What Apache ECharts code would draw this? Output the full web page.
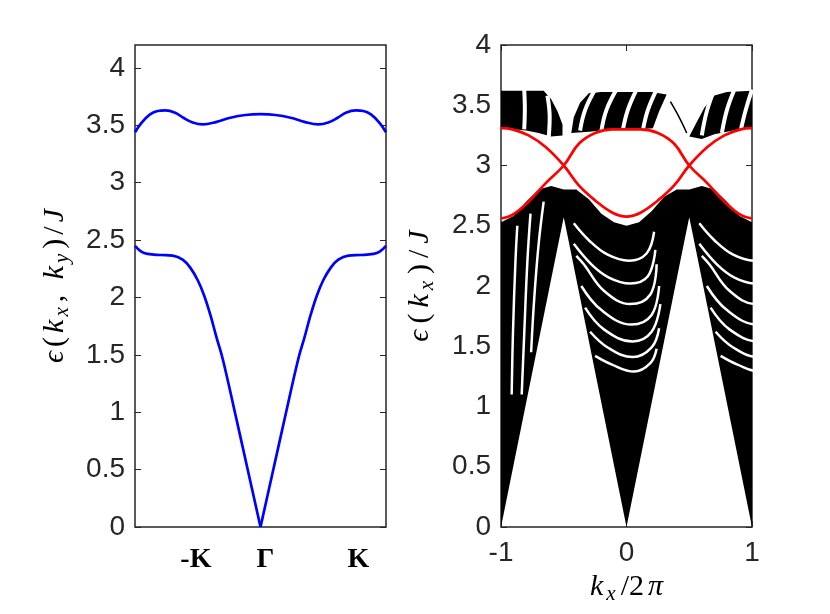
<!DOCTYPE html>
<html>
<head>
<meta charset="utf-8">
<script src="https://cdn.jsdelivr.net/npm/echarts@6/dist/echarts.min.js"></script>
<style>
  html, body { margin: 0; padding: 0; background: #fff; }
  #chart { width: 830px; height: 614px; }
</style>
</head>
<body>
<div id="chart"></div>
<script>
// ---- left panel: bulk bands along -K .. Gamma .. K ----
var kLabelPos = [-0.515, 0.04, 0.78];
var kLabelText = ['-K', 'Γ', 'K'];
var leftYTicks = [0, 0.5, 1, 1.5, 2, 2.5, 3, 3.5, 4];

var bandUpper = [[-1,3.44],[-0.95,3.52],[-0.88,3.595],[-0.82,3.625],[-0.76,3.63],[-0.68,3.61],
  [-0.615,3.566],[-0.54,3.525],[-0.46,3.508],[-0.35,3.53],[-0.24,3.566],[-0.12,3.59],[0,3.597],
  [0.12,3.59],[0.24,3.566],[0.35,3.53],[0.46,3.508],[0.54,3.525],[0.615,3.566],[0.68,3.61],
  [0.76,3.63],[0.82,3.625],[0.88,3.595],[0.95,3.52],[1,3.44]];
var bandLowerL = [[-1,2.45],[-0.95,2.40],[-0.9,2.38],[-0.8,2.37],[-0.7,2.365],[-0.62,2.33],
  [-0.56,2.26],[-0.5,2.15],[-0.45,2.02],[-0.4,1.85],[-0.35,1.65],[-0.3,1.46],[-0.2,0.98],
  [-0.1,0.49],[0,0]];
var bandLowerR = [[0,0],[0.1,0.49],[0.2,0.98],[0.3,1.46],[0.35,1.65],[0.4,1.85],[0.45,2.02],
  [0.5,2.15],[0.56,2.26],[0.62,2.33],[0.7,2.365],[0.8,2.37],[0.9,2.38],[0.95,2.40],[1,2.45]];

// ---- right panel: ribbon spectrum ----
// lower bulk continuum: top edge and bottom (cone) edge
var lowerTop = [[-1,2.53],[-0.9,2.58],[-0.8,2.70],[-0.7,2.80],[-0.6,2.83],[-0.5,2.80],[-0.4,2.80],
  [-0.3,2.72],[-0.2,2.60],[-0.1,2.53],[0,2.50],[0.1,2.53],[0.2,2.62],[0.3,2.74],[0.4,2.80],
  [0.5,2.80],[0.6,2.83],[0.7,2.80],[0.8,2.70],[0.9,2.58],[1,2.53]];
var lowerEdge = [[-1,0],[-0.53,2.42],[-0.5,2.57],[-0.47,2.42],[0,0],[0.47,2.42],[0.5,2.57],
  [0.53,2.42],[1,0]];
// upper bulk continuum, three pieces
var upperLeft = [[-1,3.31],[-1,3.62],[-0.66,3.62],[-0.60,3.55],[-0.55,3.45],[-0.51,3.34],
  [-0.51,3.25],[-0.6,3.24],[-0.7,3.27],[-0.8,3.29],[-0.9,3.30]];
var upperMid = [[-0.44,3.27],[-0.42,3.40],[-0.37,3.52],[-0.30,3.60],[-0.2,3.61],[0,3.61],
  [0.2,3.61],[0.32,3.59],[0.26,3.45],[0.21,3.31],[0.1,3.30],[-0.1,3.30],[-0.3,3.28]];
var upperRight = [[0.50,3.24],[0.56,3.36],[0.62,3.48],[0.70,3.58],[0.8,3.61],[1,3.62],
  [1,3.31],[0.9,3.30],[0.8,3.28],[0.7,3.26],[0.6,3.22]];
var upperThin = [[0.35,3.53],[0.42,3.40],[0.48,3.27]];
// white gaps between bands of lines in the upper continuum
var upperGaps = [
  [[-0.815,3.30],[-0.81,3.47],[-0.815,3.63]],
  [[-0.62,3.23],[-0.612,3.40],[-0.63,3.58]],
  [[-0.37,3.29],[-0.33,3.46],[-0.25,3.63]],
  [[-0.20,3.29],[-0.16,3.46],[-0.08,3.63]],
  [[-0.03,3.29],[0.01,3.46],[0.08,3.63]],
  [[0.13,3.29],[0.17,3.46],[0.24,3.63]],
  [[0.60,3.25],[0.64,3.45],[0.70,3.63]],
  [[0.76,3.27],[0.80,3.46],[0.86,3.63]],
  [[0.91,3.29],[0.95,3.46],[1.0,3.63]]
];
// white moire arcs in the cone around Gamma (the left arms repeat in the fan at K)
var coneArcs = [
  [[-0.42,2.52],[-0.30,2.38],[-0.15,2.26],[0.02,2.21],[0.16,2.27],[0.22,2.45]],
  [[-0.42,2.35],[-0.28,2.18],[-0.14,2.07],[0.03,2.02],[0.17,2.08],[0.23,2.30]],
  [[-0.40,2.25],[-0.34,2.18],[-0.18,1.96],[0.03,1.85],[0.19,1.93],[0.24,2.18]],
  [[-0.36,2.00],[-0.20,1.80],[0.04,1.68],[0.20,1.76],[0.26,2.00]],
  [[-0.33,1.82],[-0.18,1.64],[0.05,1.54],[0.20,1.62],[0.27,1.85]],
  [[-0.29,1.62],[-0.15,1.49],[0.05,1.41],[0.20,1.49],[0.26,1.65]],
  [[-0.25,1.42],[-0.12,1.35],[0.06,1.29],[0.19,1.36],[0.24,1.48]]
];
// near-vertical white streaks in the fan at k = -1
var leftFanGaps = [
  [[-0.915,1.10],[-0.905,1.60],[-0.885,2.20],[-0.87,2.50]],
  [[-0.835,1.10],[-0.815,1.60],[-0.79,2.20],[-0.765,2.60]],
  [[-0.76,1.45],[-0.735,1.90],[-0.70,2.35],[-0.66,2.70]]
];
// edge states (red)
var edgeA = [[-1,2.56],[-0.91,2.59],[-0.78,2.70],[-0.647,2.85],[-0.5,3.0],[-0.38,3.18],
  [-0.25,3.27],[-0.115,3.30],[0,3.30],[0.115,3.30],[0.25,3.27],[0.38,3.18],[0.5,3.0],
  [0.647,2.85],[0.78,2.70],[0.91,2.59],[1,2.56]];
var edgeB = [[-1,3.31],[-0.91,3.30],[-0.78,3.25],[-0.647,3.155],[-0.5,3.0],[-0.38,2.835],
  [-0.25,2.71],[-0.115,2.61],[0,2.575],[0.115,2.61],[0.25,2.71],[0.38,2.835],[0.5,3.0],
  [0.647,3.155],[0.78,3.25],[0.91,3.30],[1,3.31]];

var ink = '#262626';
var sansFont = 'Liberation Sans, Arial, Helvetica, sans-serif';
var serifFont = 'Liberation Serif, DejaVu Serif, Times New Roman, serif';

function mathRich(pad) {
  return {
    i: { fontFamily: serifFont, fontStyle: 'italic', fontSize: 30, lineHeight: 36, color: '#000',
         padding: [0, pad, 0, pad] },
    r: { fontFamily: serifFont, fontSize: 30, lineHeight: 36, color: '#000',
         padding: [0, pad, 0, pad] },
    s: { fontFamily: serifFont, fontStyle: 'italic', fontSize: 21, lineHeight: 21,
         verticalAlign: 'bottom', color: '#000', padding: [0, pad + 1, 0, 1] }
  };
}

function tickStyle() {
  return { show: true, inside: true, length: 6, lineStyle: { color: ink, width: 1 } };
}
var noLine = { show: false, onZero: false };

function blob(points, z) {
  return {
    type: 'custom', xAxisIndex: 1, yAxisIndex: 2, z: z || 1, silent: true,
    data: points,
    encode: { x: 0, y: 1 },
    renderItem: function (params, api) {
      if (params.dataIndex !== 0) return;
      var pts = points.map(function (p) { return api.coord(p); });
      return { type: 'polygon', shape: { points: pts }, style: { fill: '#000' } };
    }
  };
}

function stroke(data, color, width, xi, yi, z) {
  return {
    type: 'line', data: data, xAxisIndex: xi, yAxisIndex: yi, z: z,
    showSymbol: false, symbol: 'none', smooth: 0.4, silent: true, clip: true,
    lineStyle: { color: color, width: width }
  };
}

var series = [
  stroke(bandUpper, '#0000ff', 2.7, 0, 0, 3),
  stroke(bandLowerL, '#0000ff', 2.7, 0, 0, 3),
  stroke(bandLowerR, '#0000ff', 2.7, 0, 0, 3),
  blob(lowerTop.concat(lowerEdge.slice().reverse())),
  blob(upperLeft),
  blob(upperMid),
  blob(upperRight),
  stroke(upperThin, '#000', 1.5, 1, 2, 2)
];
upperGaps.forEach(function (g) { series.push(stroke(g, '#fff', 4, 1, 2, 2)); });
leftFanGaps.forEach(function (g) { series.push(stroke(g, '#fff', 2.5, 1, 2, 2)); });
// arcs around Gamma on xAxis 1; the same arcs one zone over (xAxis 4) fill the fan at K
[1, 4].forEach(function (xi) {
  coneArcs.forEach(function (a) { series.push(stroke(a, '#fff', 2.5, xi, 2, 2)); });
});
series.push(stroke(edgeA, '#ff0000', 2.7, 1, 2, 4));
series.push(stroke(edgeB, '#ff0000', 2.7, 1, 2, 4));

var tickFont = { color: ink, fontFamily: sansFont, fontSize: 28 };

var option = {
  animation: false,
  backgroundColor: '#fff',
  grid: [
    { left: 135, top: 45, width: 251, height: 482, show: true, borderColor: ink, borderWidth: 1.5 },
    { left: 501, top: 45, width: 251, height: 482, show: true, borderColor: ink, borderWidth: 1.5 }
  ],
  xAxis: [
    { gridIndex: 0, type: 'value', min: -1, max: 1,
      axisLine: noLine, axisTick: { show: false }, splitLine: { show: false },
      axisLabel: {
        customValues: kLabelPos, margin: 19, color: '#000',
        fontFamily: serifFont, fontWeight: 'bold', fontSize: 28,
        formatter: function (v) {
          for (var i = 0; i < kLabelPos.length; i++) {
            if (Math.abs(v - kLabelPos[i]) < 1e-6) return kLabelText[i];
          }
          return '';
        }
      } },
    { gridIndex: 1, type: 'value', min: -1, max: 1, interval: 1, position: 'bottom',
      axisLine: noLine, axisTick: tickStyle(), splitLine: { show: false },
      axisLabel: Object.assign({ margin: 12 }, tickFont),
      name: '{i|k}{s|x}{r|/2}{i|π}', nameLocation: 'middle', nameGap: 31,
      nameTextStyle: { rich: mathRich(2) } },
    { gridIndex: 1, type: 'value', min: -1, max: 1, interval: 1, position: 'top',
      axisLine: noLine, axisTick: tickStyle(), splitLine: { show: false },
      axisLabel: { show: false } },
    { gridIndex: 1, type: 'value', min: 0, max: 2, show: false, axisLine: noLine },
    { gridIndex: 1, type: 'value', min: -2, max: 0, show: false, axisLine: noLine }
  ],
  yAxis: [
    { gridIndex: 0, type: 'value', min: 0, max: 4.2, position: 'left',
      axisLine: noLine, splitLine: { show: false },
      axisTick: Object.assign(tickStyle(), { customValues: leftYTicks }),
      axisLabel: Object.assign({ customValues: leftYTicks, margin: 10 }, tickFont),
      name: '{i|ϵ}{r|(}{i|k}{s|x}{r|,}{r| }{i|k}{s|y}{r|)}{r|/}{i|J}', nameLocation: 'middle',
      nameGap: 62, nameTextStyle: { rich: mathRich(2) } },
    { gridIndex: 0, type: 'value', min: 0, max: 4.2, position: 'right',
      axisLine: noLine, splitLine: { show: false },
      axisTick: Object.assign(tickStyle(), { customValues: leftYTicks }),
      axisLabel: { show: false } },
    { gridIndex: 1, type: 'value', min: 0, max: 4, interval: 0.5, position: 'left',
      axisLine: noLine, splitLine: { show: false }, axisTick: tickStyle(),
      axisLabel: Object.assign({ margin: 10 }, tickFont),
      name: '{i|ϵ}{r|(}{i|k}{s|x}{r|)}{r|/}{i|J}', nameLocation: 'middle', nameGap: 63,
      nameTextStyle: { rich: mathRich(3) } },
    { gridIndex: 1, type: 'value', min: 0, max: 4, interval: 0.5, position: 'right',
      axisLine: noLine, splitLine: { show: false }, axisTick: tickStyle(),
      axisLabel: { show: false } }
  ],
  series: series
};

var myChart = echarts.init(document.getElementById('chart'));
myChart.setOption(option);
</script>
</body>
</html>
